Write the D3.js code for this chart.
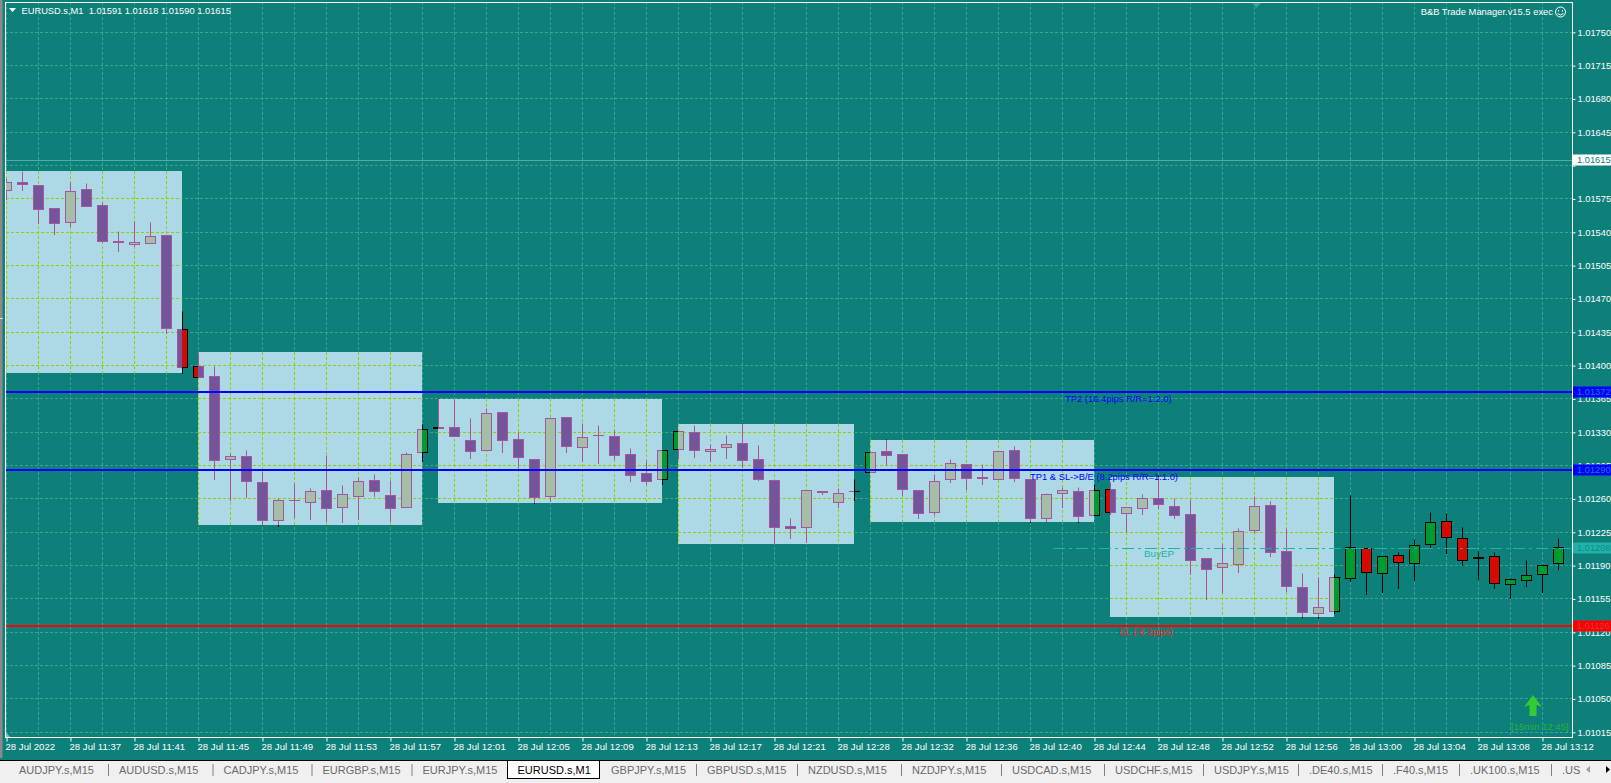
<!DOCTYPE html>
<html>
<head>
<meta charset="utf-8">
<title>EURUSD.s,M1</title>
<script src="https://cdn.jsdelivr.net/npm/d3@7"></script>
<style>
    html, body { margin: 0; padding: 0; background: #0e807a; overflow: hidden; }
    svg { display: block; font-family: "Liberation Sans", Arial, sans-serif; }
</style>
</head>
<body>
<svg id="chart" width="1611" height="783"></svg>
<script>
// --- DATA ---
const opens = [1.01584,1.01592,1.01589,1.01565,1.01550,1.01585,1.01568,1.01530,1.01527,1.01528,
    1.01537,1.01438,1.01399,1.01389,1.01301,1.01305,1.01277,1.01237,1.01258,1.01256,
    1.01269,1.01251,1.01263,1.01279,1.01264,1.01251,1.01309,1.01335,1.01335,1.01321,
    1.01311,1.01351,1.01322,1.01301,1.01263,1.01346,1.01314,1.01327,1.01326,1.01307,
    1.01287,1.01280,1.01312,1.01330,1.01310,1.01314,1.01318,1.01301,1.01279,1.01231,
    1.01230,1.01268,1.01256,1.01268,1.01288,1.01310,1.01307,1.01269,1.01246,1.01280,
    1.01296,1.01283,1.01280,1.01311,1.01280,1.01239,1.01266,1.01268,1.01243,1.01270,
    1.01245,1.01250,1.01260,1.01252,1.01244,1.01198,1.01188,1.01191,1.01227,1.01253,
    1.01205,1.01167,1.01140,1.01142,1.01177,1.01208,1.01182,1.01201,1.01192,1.01212,
    1.01236,1.01219,1.01199,1.01200,1.01170,1.01174,1.01181,1.01192];
const highs = [1.01597,1.01604,1.01589,1.01565,1.01592,1.01591,1.01571,1.01541,1.01551,1.01550,
    1.01537,1.01457,1.01414,1.01399,1.01308,1.01311,1.01289,1.01260,1.01276,1.01271,
    1.01306,1.01274,1.01283,1.01286,1.01279,1.01309,1.01338,1.01365,1.01364,1.01344,
    1.01355,1.01351,1.01330,1.01301,1.01346,1.01346,1.01339,1.01337,1.01332,1.01313,
    1.01300,1.01311,1.01331,1.01337,1.01317,1.01327,1.01339,1.01316,1.01279,1.01239,
    1.01269,1.01268,1.01271,1.01280,1.01309,1.01322,1.01307,1.01269,1.01286,1.01301,
    1.01296,1.01296,1.01310,1.01315,1.01280,1.01266,1.01272,1.01272,1.01275,1.01277,
    1.01251,1.01265,1.01285,1.01261,1.01259,1.01198,1.01212,1.01229,1.01263,1.01257,
    1.01229,1.01182,1.01178,1.01181,1.01264,1.01208,1.01200,1.01204,1.01217,1.01246,
    1.01245,1.01230,1.01205,1.01204,1.01177,1.01195,1.01191,1.01219];
const lows = [1.01574,1.01584,1.01549,1.01538,1.01546,1.01567,1.01529,1.01520,1.01525,1.01528,
    1.01434,1.01392,1.01388,1.01280,1.01258,1.01262,1.01233,1.01231,1.01241,1.01238,
    1.01236,1.01235,1.01238,1.01263,1.01236,1.01251,1.01299,1.01334,1.01326,1.01302,
    1.01311,1.01309,1.01292,1.01255,1.01257,1.01309,1.01299,1.01297,1.01301,1.01278,
    1.01275,1.01275,1.01303,1.01304,1.01299,1.01303,1.01293,1.01279,1.01213,1.01218,
    1.01214,1.01265,1.01251,1.01258,1.01288,1.01296,1.01264,1.01240,1.01244,1.01277,
    1.01270,1.01275,1.01280,1.01278,1.01235,1.01236,1.01251,1.01235,1.01243,1.01244,
    1.01226,1.01244,1.01250,1.01240,1.01181,1.01154,1.01162,1.01183,1.01225,1.01200,
    1.01163,1.01136,1.01135,1.01140,1.01173,1.01160,1.01162,1.01166,1.01174,1.01209,
    1.01203,1.01190,1.01175,1.01166,1.01155,1.01168,1.01162,1.01186];
const closes = [1.01592,1.01590,1.01564,1.01549,1.01583,1.01567,1.01530,1.01529,1.01529,1.01536,
    1.01439,1.01398,1.01388,1.01300,1.01305,1.01278,1.01237,1.01258,1.01258,1.01268,
    1.01250,1.01265,1.01278,1.01268,1.01250,1.01307,1.01333,1.01334,1.01326,1.01310,
    1.01350,1.01321,1.01304,1.01262,1.01344,1.01315,1.01325,1.01327,1.01306,1.01285,
    1.01278,1.01311,1.01331,1.01311,1.01312,1.01317,1.01300,1.01280,1.01230,1.01229,
    1.01269,1.01267,1.01266,1.01268,1.01309,1.01306,1.01270,1.01245,1.01278,1.01297,
    1.01282,1.01282,1.01310,1.01282,1.01239,1.01265,1.01269,1.01242,1.01269,1.01246,
    1.01251,1.01260,1.01254,1.01243,1.01195,1.01186,1.01192,1.01226,1.01252,1.01204,
    1.01168,1.01141,1.01146,1.01178,1.01209,1.01183,1.01200,1.01193,1.01211,1.01235,
    1.01220,1.01195,1.01198,1.01171,1.01175,1.01180,1.01190,1.01209];

// 15 minute ranges, first bar, last bar, high, low
const boxStart = [-1, 12, 27, 42, 54, 69];
const boxEnd = [11, 26, 41, 53, 68, 83];
const boxHigh = [1.01604, 1.01414, 1.01365, 1.01339, 1.01322, 1.01283];
const boxLow = [1.01392, 1.01233, 1.01256, 1.01213, 1.01236, 1.01136];

const timeLabels = ['28 Jul 2022', '28 Jul 11:37', '28 Jul 11:41', '28 Jul 11:45', '28 Jul 11:49', '28 Jul 11:53',
    '28 Jul 11:57', '28 Jul 12:01', '28 Jul 12:05', '28 Jul 12:09', '28 Jul 12:13', '28 Jul 12:17', '28 Jul 12:21',
    '28 Jul 12:28', '28 Jul 12:32', '28 Jul 12:36', '28 Jul 12:40', '28 Jul 12:44', '28 Jul 12:48', '28 Jul 12:52',
    '28 Jul 12:56', '28 Jul 13:00', '28 Jul 13:04', '28 Jul 13:08', '28 Jul 13:12'];
const priceTicks = [1.01750, 1.01715, 1.01680, 1.01645, 1.01610, 1.01575, 1.01540, 1.01505, 1.01470, 1.01435, 1.01400,
    1.01365, 1.01330, 1.01295, 1.01260, 1.01225, 1.01190, 1.01155, 1.01120, 1.01085, 1.01050, 1.01015];
const tabNames = ['AUDJPY.s,M15', 'AUDUSD.s,M15', 'CADJPY.s,M15', 'EURGBP.s,M15', 'EURJPY.s,M15', 'EURUSD.s,M1',
    'GBPJPY.s,M15', 'GBPUSD.s,M15', 'NZDUSD.s,M15', 'NZDJPY.s,M15', 'USDCAD.s,M15', 'USDCHF.s,M15', 'USDJPY.s,M15',
    '.DE40.s,M15', '.F40.s,M15', '.UK100.s,M15', '.US'];
const activeTab = 'EURUSD.s,M1';

const tp2Price = 1.01372, tp1Price = 1.01290, entryPrice = 1.01208, slPrice = 1.01126, bidPrice = 1.01615;

// --- SETUP ---
const BG = '#0e807a', GRID = '#3f9f99', BOXGRID = '#9acd00', AXIS = '#ffffff';
const plotLeft = 5, plotRight = 1572, plotTop = 2, plotBottom = 737;
const svg = d3.select('#chart');
const bars = opens.map((o, i) => ({ i, o, h: highs[i], l: lows[i], c: closes[i] }));

const x = d3.scaleLinear().domain([0, 96]).range([6.5, 1542.5]);
const y = d3.scaleLinear().domain([1.0175, 1.01015]).range([32.3, 732.3]);
const py = p => Math.floor(y(p)) + 0.5;

svg.append('rect').attr('width', 1611).attr('height', 783).attr('fill', BG);
svg.append('rect').attr('width', 2.5).attr('height', 758).attr('fill', '#8a8a8a');
svg.append('rect').attr('y', 318).attr('width', 3).attr('height', 1).attr('fill', '#e0e0e0');

// --- GRID ---
const gridXs = d3.range(0, 98, 2);
function drawGrid(g, color, y0, y1, x0, x1) {
    g.append('g').selectAll('line').data(priceTicks).enter().append('line')
        .attr('x1', x0).attr('x2', x1)
        .attr('y1', d => py(d)).attr('y2', d => py(d))
        .attr('stroke', color).attr('stroke-dasharray', '3,2');
    g.append('g').selectAll('line').data(gridXs).enter().append('line')
        .attr('x1', d => x(d)).attr('x2', d => x(d))
        .attr('y1', y0).attr('y2', y1)
        .attr('stroke', color).attr('stroke-dasharray', '3,2');
}
drawGrid(svg.append('g'), GRID, plotTop, plotBottom, plotLeft, plotRight);

svg.append('line').attr('x1', plotLeft).attr('x2', plotRight)
    .attr('y1', py(bidPrice)).attr('y2', py(bidPrice)).attr('stroke', '#52aca6');

// --- CANDLES ---
function drawCandles(g, colors) {
    const candle = g.selectAll('g.candle').data(bars).enter().append('g').attr('class', 'candle');
    candle.append('line')
        .attr('x1', d => x(d.i)).attr('x2', d => x(d.i))
        .attr('y1', d => py(d.h)).attr('y2', d => py(d.l) + 0.5)
        .attr('stroke', colors.outline);
    candle.append('rect')
        .attr('x', d => x(d.i) - 5).attr('width', 10)
        .attr('y', d => py(Math.max(d.o, d.c)))
        // a flat candle still needs a height or its stroke is not drawn
        .attr('height', d => Math.max(0.01, py(Math.min(d.o, d.c)) - py(Math.max(d.o, d.c))))
        .attr('fill', d => d.c >= d.o ? colors.up : colors.down)
        .attr('stroke', colors.outline);
}
const defs = svg.append('defs');
defs.append('clipPath').attr('id', 'plot').append('rect')
    .attr('x', plotLeft + 1).attr('y', plotTop).attr('width', plotRight - plotLeft).attr('height', plotBottom - plotTop);
drawCandles(svg.append('g').attr('clip-path', 'url(#plot)'), { up: '#009933', down: '#d40c00', outline: '#000000' });

// --- RANGE BOXES ---
// inside a box the terminal shows the candles in blended colours
boxStart.forEach((start, k) => {
    const bx = Math.max(x(start) - 0.5, plotLeft + 1);
    const bw = x(boxEnd[k]) - 0.5 - bx;
    const by = Math.round(y(boxHigh[k]));
    const bh = Math.round(y(boxLow[k])) - by;
    defs.append('clipPath').attr('id', 'box' + k)
        .append('rect').attr('x', bx).attr('y', by).attr('width', bw).attr('height', bh);
    const g = svg.append('g').attr('clip-path', `url(#box${k})`);
    g.append('rect').attr('x', bx).attr('y', by).attr('width', bw).attr('height', bh).attr('fill', '#add8e6');
    drawGrid(g, BOXGRID, by, by + bh, bx, bx + bw);
    drawCandles(g, { up: '#a3bfa8', down: '#72559a', outline: '#a8559a' });
});

// --- TRADE LINES ---
[[tp2Price, '#0000ff'], [tp1Price, '#0000ff'], [slPrice, '#ff0000']].forEach(([p, color]) => {
    svg.append('line').attr('x1', plotLeft).attr('x2', plotRight)
        .attr('y1', Math.floor(y(p))).attr('y2', Math.floor(y(p)))
        .attr('stroke', color).attr('stroke-width', 2);
});
svg.append('line').attr('x1', 1053).attr('x2', plotRight)
    .attr('y1', py(entryPrice)).attr('y2', py(entryPrice))
    .attr('stroke', '#20b2aa').attr('stroke-dasharray', '12,4,3,4');

function note(txt, px, pyy, color, size, anchor) {
    return svg.append('text').attr('x', px).attr('y', pyy).attr('fill', color)
        .attr('font-size', size || 10).attr('text-anchor', anchor || 'start')
        .attr('dominant-baseline', 'central').text(txt);
}
note('TP2 (16.4pips R/R=1:2.0)', 1065, 398, '#0000ff', 9.4);
note('TP1 & SL->B/E (8.2pips R/R=1:1.0)', 1030, 476, '#0000ff', 9.4);
note('BuyEP', 1144, 553, '#20b2aa', 9.8);
note('SL (-8.2pips)', 1119, 631.5, '#ff2020', 9.5);

// --- ARROW ---
svg.append('path')
    .attr('d', d3.line()([[1533, 695], [1542, 707], [1536.5, 705], [1536.5, 716], [1529.5, 716], [1529.5, 705], [1524, 707]]) + 'Z')
    .attr('fill', '#32cd32');
note('[15min 12:45]', 1511, 726, '#22b53a', 9.5);

// --- AXES ---
// 1.01610 sits under the bid tag, the terminal shows no label for it
const yAxis = d3.axisRight(y).tickValues(priceTicks)
    .tickFormat(d => d === 1.01610 ? '' : d3.format('.5f')(d)).tickSize(3).tickPadding(2);
const gy = svg.append('g').attr('transform', `translate(${plotRight + 0.5},0)`).call(yAxis);
const xAxis = d3.axisBottom(x).tickValues(timeLabels.map((d, i) => i * 4))
    .tickFormat((d, i) => timeLabels[i]).tickSize(4);
const gx = svg.append('g').attr('transform', `translate(0,${plotBottom + 0.5})`).call(xAxis);
[gx, gy].forEach(g => {
    g.select('.domain').remove();
    g.selectAll('line').attr('stroke', AXIS);
    g.selectAll('text').attr('fill', AXIS).attr('font-family', '"Liberation Sans", Arial, sans-serif').attr('font-size', 9.3);
});
gx.selectAll('text').attr('text-anchor', 'start').attr('x', -1.5).attr('y', 5.5).attr('font-size', 9.6);

svg.append('rect').attr('x', plotLeft + 0.5).attr('y', plotTop + 0.5)
    .attr('width', plotRight - plotLeft).attr('height', plotBottom - plotTop)
    .attr('fill', 'none').attr('stroke', AXIS);
svg.append('path').attr('d', 'M1252,3L1261,3L1256.5,8Z').attr('fill', GRID);
svg.append('path').attr('d', 'M6,737L6,732L10,737Z').attr('fill', '#7fc4bf');

// --- PRICE TAGS ---
[[bidPrice, '#ffffff', BG], [tp2Price, '#0000ff', '#1e78c8'], [tp1Price, '#0000ff', '#1e78c8'],
    [entryPrice, '#20b2aa', '#128c84'], [slPrice, '#ff0000', '#c84040']].forEach(([p, fill, color]) => {
    const yy = Math.floor(y(p));
    svg.append('rect').attr('x', 1573).attr('y', yy - 5.5).attr('width', 38).attr('height', 11).attr('fill', fill);
    svg.append('text').attr('x', 1577).attr('y', yy).attr('fill', color).attr('font-size', 9.3)
        .attr('dominant-baseline', 'central').text(d3.format('.5f')(p));
});

// --- HEADER ---
svg.append('path').attr('d', 'M9,8L16,8L12.5,12Z').attr('fill', '#ffffff');
note('EURUSD.s,M1\u00a0\u00a01.01591 1.01618 1.01590 1.01615', 21.5, 10.5, '#ffffff', 9.3);
note('B&B Trade Manager.v15.5 exec', 1553, 11, '#ffffff', 9.4, 'end');
svg.append('circle').attr('cx', 1560.5).attr('cy', 12).attr('r', 5).attr('fill', 'none').attr('stroke', '#ffffff');
svg.append('path').attr('d', 'M1557.5,13.5Q1560.5,16.5 1563.5,13.5').attr('fill', 'none').attr('stroke', '#ffffff');
svg.append('rect').attr('x', 1558).attr('y', 10).attr('width', 1).attr('height', 1.5).attr('fill', '#ffffff');
svg.append('rect').attr('x', 1562).attr('y', 10).attr('width', 1).attr('height', 1.5).attr('fill', '#ffffff');

// --- TABS ---
// where each tab's label starts, read off the tab strip
const tabTextX = [19, 119, 223.5, 322.5, 422.5, 517.5, 611, 707, 808, 912, 1012, 1115, 1214, 1309, 1393, 1470, 1562];
const tabs = svg.append('g');
tabs.append('rect').attr('y', 760).attr('width', 1611).attr('height', 23).attr('fill', '#f0f0f0');
tabs.append('line').attr('x1', 0).attr('x2', 1611).attr('y1', 760.5).attr('y2', 760.5).attr('stroke', '#000000');
tabs.append('rect').attr('x', 507.5).attr('y', 760.5).attr('width', 92).attr('height', 18)
    .attr('fill', '#ffffff').attr('stroke', '#000000');
tabs.selectAll('text').data(tabNames).enter().append('text')
    .attr('x', (d, i) => tabTextX[i]).attr('y', 770).attr('font-size', 11)
    .attr('dominant-baseline', 'central')
    .attr('fill', d => d === activeTab ? '#000000' : '#6a6a6a').text(d => d);
tabs.selectAll('line.sep').data(tabNames.slice(1).filter((d, i) => d !== activeTab && tabNames[i] !== activeTab)).enter().append('line')
    .attr('class', 'sep')
    .attr('x1', d => tabTextX[tabNames.indexOf(d)] - 10.5).attr('x2', d => tabTextX[tabNames.indexOf(d)] - 10.5)
    .attr('y1', 764).attr('y2', 776).attr('stroke', '#808080');
tabs.append('path').attr('d', 'M1590,766L1590,773L1586,769.5Z').attr('fill', '#a0a0a0');
tabs.append('path').attr('d', 'M1606,766L1606,773L1610,769.5Z').attr('fill', '#000000');
</script>
</body>
</html>
